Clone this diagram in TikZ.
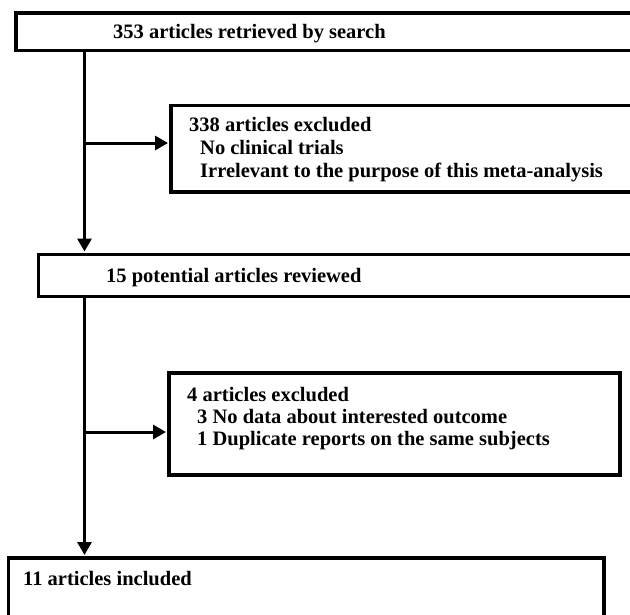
\documentclass[tikz,border=0pt]{standalone}
\usepackage{fontspec}
\setmainfont{Liberation Serif}
\usetikzlibrary{arrows.meta}
\tikzset{
  box/.style={draw, line width=3.5pt, rectangle, inner sep=0pt, anchor=north west},
  txt/.style={inner sep=0pt, anchor=base west, font=\fontsize{20.5}{23}\selectfont\bfseries},
  arr/.style={line width=3pt, -{Triangle[length=13pt,width=14pt]}, shorten >=1pt}
}
\begin{document}
\begin{tikzpicture}[x=1pt,y=-1pt]
\useasboundingbox (0,0) rectangle (630,614);
\clip (0,0) rectangle (630,614);
\node[box, minimum width=630pt, minimum height=37.5pt] (b1) at (14,11) {};
\node[box, minimum width=475pt, minimum height=86.5pt] (b2) at (169,103.5) {};
\node[box, minimum width=610pt, minimum height=42pt] (b3) at (36.5,252.5) {};
\node[box, minimum width=451pt, minimum height=102pt] (b4) at (167,371) {};
\node[box, minimum width=595.5pt, minimum height=80pt] (b5) at (6.5,556) {};

\node[txt] (t1) at (113,38) {353 articles retrieved by search};
\node[txt] (t2a) at (189,131) {338 articles excluded};
\node[txt] (t2b) at (200,154) {No clinical trials};
\node[txt] (t2c) at (200,177) {Irrelevant to the purpose of this meta-analysis};
\node[txt] (t3) at (106,282) {15 potential articles reviewed};
\node[txt] (t4a) at (187,401) {4 articles excluded};
\node[txt] (t4b) at (197,423) {3 No data about interested outcome};
\node[txt] (t4c) at (197,445) {1 Duplicate reports on the same subjects};
\node[txt] (t5) at (23,585) {11 articles included};

\coordinate (c1) at (84.5,143);
\coordinate (c2) at (84.5,432);
\draw[arr] (c1 |- b1.south) -- (c1 |- b3.north);
\draw[arr] (c1) -- (c1 -| b2.west);
\draw[arr] (c2 |- b3.south) -- (c2 |- b5.north);
\draw[arr] (c2) -- (c2 -| b4.west);
\end{tikzpicture}
\end{document}
